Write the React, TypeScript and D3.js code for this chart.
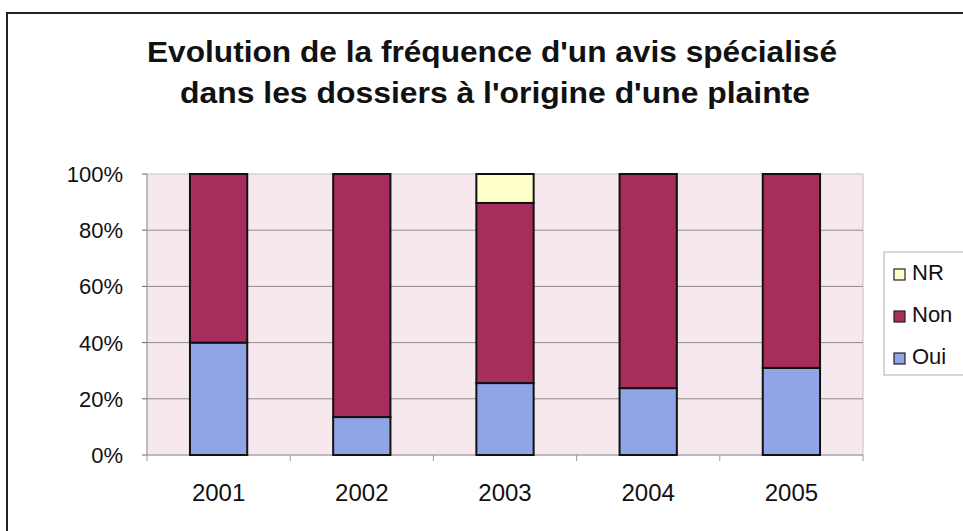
import React from "react";
import * as d3 from "d3";

const years = ["2001", "2002", "2003", "2004", "2005"];
const oui = [40, 13.5, 25.6, 23.8, 31];
const non = [60, 86.5, 64.1, 76.2, 69];
const nr = [0, 0, 10.3, 0, 0];
const yTicks = [0, 20, 40, 60, 80, 100];
const seriesNames = ["Oui", "Non", "NR"];
const seriesColors = ["#8FA5E6", "#A72D5C", "#FFFFCC"];
const titleLines = [
  "Evolution de la fréquence d'un avis spécialisé",
  "dans les dossiers à l'origine d'une plainte",
];

export default function App() {
  const W = 963, H = 531;
  const left = 147, right = 863, top = 174, bottom = 455;
  const x = d3.scaleBand<string>().domain(years).range([left, right]).paddingInner(0.6).paddingOuter(0.3);
  const xCat = d3.scaleBand<string>().domain(years).range([left, right]);
  const y = d3.scaleLinear().domain([0, 100]).range([bottom, top]);

  const rows = years.map((yr, i) => ({ year: yr, Oui: oui[i], Non: non[i], NR: nr[i] }));
  const stack = d3.stack<any>().keys(seriesNames)(rows);

  const font = "'Liberation Sans', Arial, sans-serif";
  const legendItems = [
    { name: "NR", color: seriesColors[2], base: 280 },
    { name: "Non", color: seriesColors[1], base: 322 },
    { name: "Oui", color: seriesColors[0], base: 364 },
  ];

  return (
    <svg width={W} height={H} style={{ position: "absolute", left: 0, top: 0, background: "#fff" }} fontFamily={font}>
      <rect x={7} y={13} width={1000} height={600} fill="#fff" stroke="#222" strokeWidth={2} />
      {titleLines.map((t, i) => (
        <text
          key={i}
          x={i === 0 ? 492 : 495}
          y={i === 0 ? 62 : 103}
          textAnchor="middle"
          fontSize={30}
          fontWeight="bold"
          fill="#111"
          textLength={i === 0 ? 690 : 630}
          lengthAdjust="spacingAndGlyphs"
        >
          {t}
        </text>
      ))}
      {/* plot area */}
      <rect x={left} y={top} width={right - left} height={bottom - top} fill="#F6E8EC" stroke="#C8C0C4" strokeWidth={1} />
      {yTicks.filter((t) => t > 0 && t < 100).map((t) => (
        <line key={t} x1={left} x2={right} y1={y(t)} y2={y(t)} stroke="#8E8A8C" strokeWidth={1} />
      ))}
      {/* axes */}
      <line x1={left} x2={left} y1={top} y2={bottom} stroke="#9A9A9A" strokeWidth={1} />
      <line x1={left} x2={right} y1={bottom} y2={bottom} stroke="#9A9A9A" strokeWidth={1} />
      {yTicks.map((t) => (
        <g key={t}>
          <line x1={left - 5} x2={left} y1={y(t)} y2={y(t)} stroke="#666" />
          <text x={123} y={y(t) + 8} textAnchor="end" fontSize={22} fill="#111">
            {t}%
          </text>
        </g>
      ))}
      {years.map((yr) => (
        <line key={"tk" + yr} x1={xCat(yr)!} x2={xCat(yr)!} y1={bottom} y2={bottom + 6} stroke="#999" />
      ))}
      <line x1={right} x2={right} y1={bottom} y2={bottom + 6} stroke="#999" />
      {/* bars */}
      {stack.map((s, si) =>
        s.map((d, i) =>
          d[1] - d[0] > 0 ? (
            <rect
              key={seriesNames[si] + i}
              x={x(years[i])!}
              y={y(d[1])}
              width={x.bandwidth()}
              height={y(d[0]) - y(d[1])}
              fill={seriesColors[si]}
              stroke="#111"
              strokeWidth={2}
            />
          ) : null
        )
      )}
      {years.map((yr) => (
        <text key={"xl" + yr} x={x(yr)! + x.bandwidth() / 2} y={501} textAnchor="middle" fontSize={24} fill="#111">
          {yr}
        </text>
      ))}
      {/* legend */}
      <rect x={884} y={252} width={100} height={123} fill="#fff" stroke="#B0B0B0" strokeWidth={1} />
      {legendItems.map((it) => (
        <g key={it.name}>
          <rect x={894} y={it.base - 11} width={11} height={11} fill={it.color} stroke="#222" strokeWidth={1.2} />
          <text x={912} y={it.base} fontSize={22} fill="#111">
            {it.name}
          </text>
        </g>
      ))}
    </svg>
  );
}
